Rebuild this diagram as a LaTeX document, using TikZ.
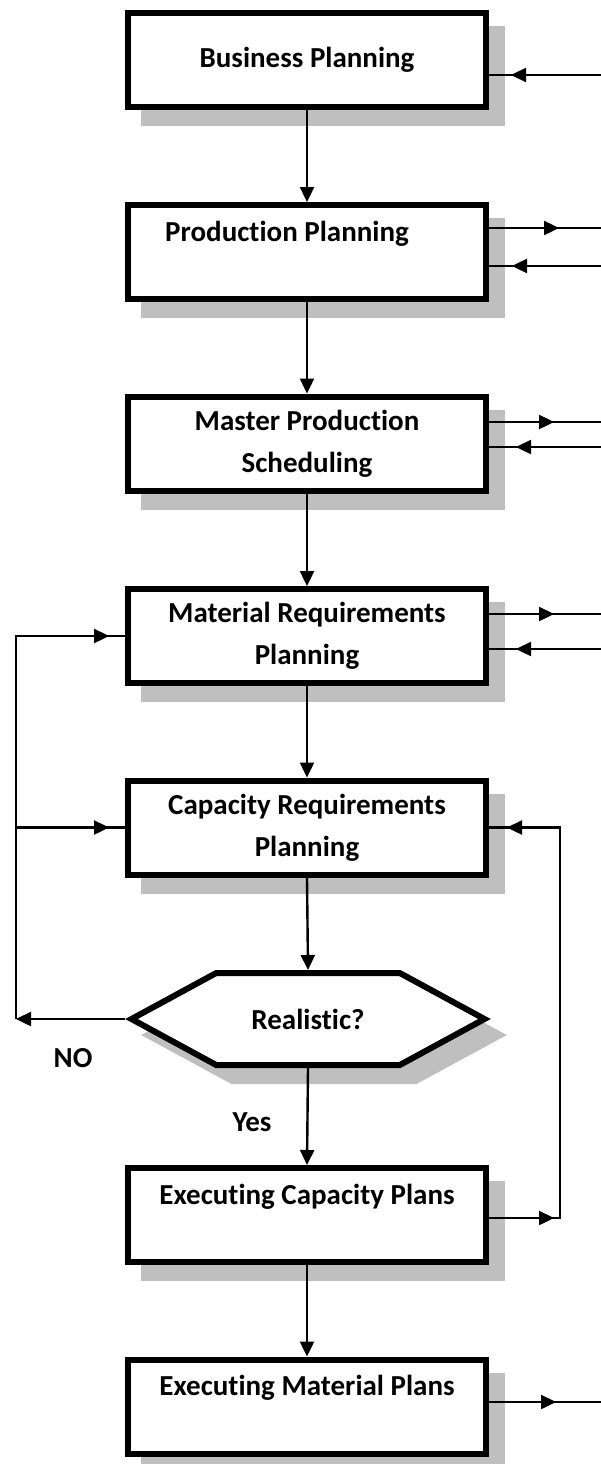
\documentclass[tikz,border=0pt]{standalone}
\usepackage{fontspec}
\setmainfont{Carlito}[Ligatures=NoCommon]
\definecolor{shadowgray}{RGB}{191,191,191}
\usetikzlibrary{shapes, shapes.symbols, arrows.meta, positioning, calc, shadows, decorations.markings}

\tikzset{
  tri/.tip={Triangle[length=15pt, width=14pt]},
  planbox/.style={draw, line width=6pt, fill=white, minimum width=358pt, minimum height=94pt,
    align=center, font=\bfseries\fontsize{29}{42}\selectfont,
    drop shadow={shadow xshift=16pt, shadow yshift=-16pt, fill=shadowgray, draw=shadowgray, line width=6pt, opacity=1}},
  lbl/.style={font=\bfseries\fontsize{29}{42}\selectfont},
  flow/.style={line width=2.4pt, -tri},
  midflow/.style={line width=2.4pt, postaction={decorate},
    decoration={markings, mark=at position #1 with {\arrow{tri}}}},
}

\begin{document}
\begin{tikzpicture}[x=1pt, y=-1pt]
  \useasboundingbox (0,0) rectangle (601,1464);

  % planning levels
  \node[planbox] (bp) at (307,60) {Business Planning};
  \node[planbox] (pp) at (307,252) {Production Planning\hspace*{40pt}\\\mbox{}};
  \node[planbox] (mps) at (307,443.5) {Master Production\\Scheduling};
  \node[planbox] (mrp) at (307,636) {Material Requirements\\Planning};
  \node[planbox] (crp) at (307,827.5) {Capacity Requirements\\Planning};
  \node[planbox, shape=signal, signal to=west and east, signal pointer angle=57,
    minimum width=353pt, minimum height=92pt] (real) at (308,1019) {Realistic?};
  \node[planbox] (ecp) at (307,1215) {Executing Capacity Plans\\\mbox{}};
  \node[planbox] (emp) at (307,1406.5) {Executing Material Plans\\\mbox{}};

  \node[lbl] (no) at (73,1058) {NO};
  \node[lbl] (yes) at (252,1122) {Yes};

  % main flow
  \foreach \a/\b in {bp/pp, pp/mps, mps/mrp, mrp/crp, crp/real, real/ecp, ecp/emp}
    \draw[flow] (\a.south) -- (\b.north);

  % links on the right edge
  \coordinate (bpin) at (601,75);
  \coordinate (ppout) at (601,228);
  \coordinate (ppin) at (601,266);
  \coordinate (mpsout) at (601,422);
  \coordinate (mpsin) at (601,447);
  \coordinate (mrpout) at (601,614);
  \coordinate (mrpin) at (601,649);
  \coordinate (empout) at (601,1402);
  \coordinate (capturn) at (560,1218);
  \coordinate (noturn) at (16,1019);

  \draw[midflow=-22pt] (bpin) -- (bpin -| bp.east);
  \draw[midflow=70pt] (ppout -| pp.east) -- (ppout);
  \draw[midflow=-23pt] (ppin) -- (ppin -| pp.east);
  \draw[midflow=65pt] (mpsout -| mps.east) -- (mpsout);
  \draw[midflow=-27pt] (mpsin) -- (mpsin -| mps.east);
  \draw[midflow=65pt] (mrpout -| mrp.east) -- (mrpout);
  \draw[midflow=-27pt] (mrpin) -- (mrpin -| mrp.east);
  \draw[midflow=67pt] (empout -| emp.east) -- (empout);

  % capacity loop back
  \draw[line width=2.4pt, postaction={decorate},
    decoration={markings, mark=at position 65pt with {\arrow{tri}},
      mark=at position -18pt with {\arrow{tri}}}]
    (capturn -| ecp.east) -- (capturn) |- (crp.east);

  % not realistic: back to MRP and CRP
  \draw[flow] (real.west) -- (noturn);
  \draw[midflow=-16pt] (noturn) |- (mrp.west);
  \draw[midflow=-16pt] (noturn |- crp.west) -- (crp.west);
\end{tikzpicture}
\end{document}
